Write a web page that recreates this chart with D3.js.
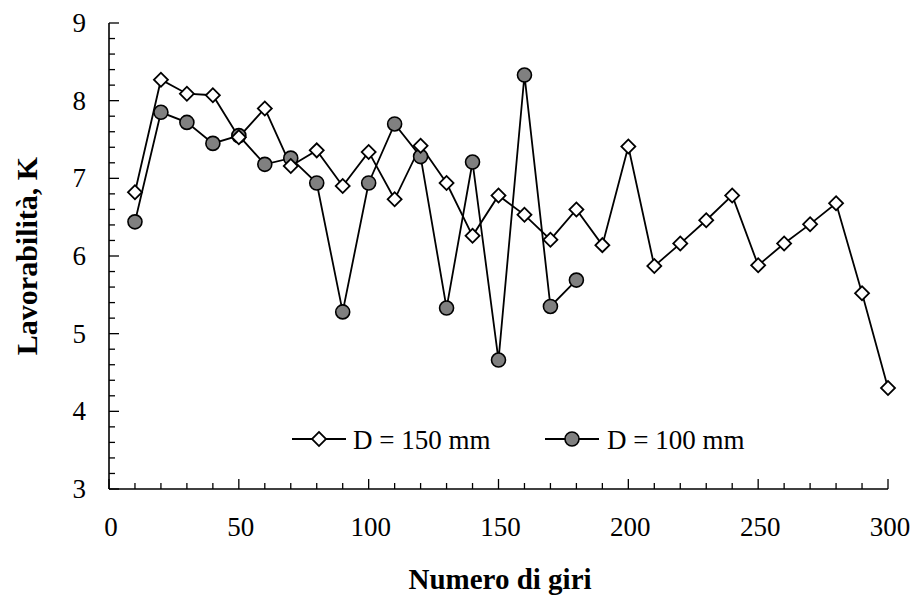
<!DOCTYPE html>
<html>
<head>
<meta charset="utf-8">
<script src="https://cdn.jsdelivr.net/npm/d3@7"></script>
<style>
  body { margin: 0; background: #fff; }
  svg { display: block; }
</style>
</head>
<body>
<svg id="chart" width="912" height="599"></svg>
<script>
// Dati
const giri = [10, 20, 30, 40, 50, 60, 70, 80, 90, 100, 110, 120, 130, 140, 150,
              160, 170, 180, 190, 200, 210, 220, 230, 240, 250, 260, 270, 280, 290, 300];
const lav150 = [6.82, 8.27, 8.09, 8.07, 7.53, 7.90, 7.16, 7.36, 6.90, 7.34, 6.73, 7.42, 6.94, 6.26, 6.78,
                6.53, 6.21, 6.60, 6.14, 7.41, 5.87, 6.16, 6.46, 6.78, 5.88, 6.16, 6.41, 6.68, 5.52, 4.30];
const lav100 = [6.44, 7.85, 7.72, 7.45, 7.55, 7.18, 7.26, 6.94, 5.28, 6.94, 7.70, 7.28, 5.33, 7.21, 4.66,
                8.33, 5.35, 5.69];
const xTicks = [0, 50, 100, 150, 200, 250, 300];
const yTicks = [3, 4, 5, 6, 7, 8, 9];
const seriesNames = ["D = 150 mm", "D = 100 mm"];

const FONT = "'Liberation Serif', 'Times New Roman', Tinos, serif";

const svg = d3.select("#chart");

// scale
const x = d3.scaleLinear().domain([0, 300]).range([109, 888]);
const y = d3.scaleLinear().domain([3, 9]).range([489, 23]);

// tacche secondarie
const xMinor = d3.range(0, 301, 10);
const yMinor = d3.range(3, 9.001, 0.2);

const axes = svg.append("g").attr("stroke", "#000").attr("stroke-width", 1.3);

axes.selectAll(".xm").data(xMinor).enter().append("line")
    .attr("x1", d => x(d)).attr("x2", d => x(d))
    .attr("y1", y(3)).attr("y2", d => y(3) - (d % 50 === 0 ? 10 : 6));

axes.selectAll(".ym").data(yMinor).enter().append("line")
    .attr("y1", d => y(d)).attr("y2", d => y(d))
    .attr("x1", x(0)).attr("x2", d => x(0) + (Math.abs(d - Math.round(d)) < 1e-6 ? 10 : 6));

axes.append("line").attr("x1", x(0)).attr("x2", x(300)).attr("y1", y(3)).attr("y2", y(3)).attr("stroke-width", 1.6);
axes.append("line").attr("x1", x(0)).attr("x2", x(0)).attr("y1", y(3)).attr("y2", y(9)).attr("stroke-width", 1.6);

// etichette
svg.selectAll(".xl").data(xTicks).enter().append("text")
    .attr("x", d => x(d) + 2).attr("y", 536)
    .attr("text-anchor", "middle").attr("font-size", 27)
    .style("font-family", FONT).style("font-weight", "normal")
    .text(d => d);

svg.selectAll(".yl").data(yTicks).enter().append("text")
    .attr("x", 86).attr("y", d => y(d) + 9)
    .attr("text-anchor", "end").attr("font-size", 27)
    .style("font-family", FONT).style("font-weight", "normal")
    .text(d => d);

svg.append("text")
    .attr("x", 500).attr("y", 589)
    .attr("text-anchor", "middle").attr("font-size", 29)
    .style("font-family", FONT).style("font-weight", "bold")
    .text("Numero di giri");

svg.append("text")
    .attr("transform", "translate(37,256) rotate(-90)")
    .attr("text-anchor", "middle").attr("font-size", 30)
    .style("font-family", FONT).style("font-weight", "bold")
    .text("Lavorabilità, K");

// linee
const line = d3.line().x(d => x(d[0])).y(d => y(d[1]));
const pts150 = giri.map((g, i) => [g, lav150[i]]);
const pts100 = lav100.map((v, i) => [giri[i], v]);

svg.append("path").datum(pts150).attr("d", line)
    .attr("fill", "none").attr("stroke", "#000").attr("stroke-width", 1.8);
svg.append("path").datum(pts100).attr("d", line)
    .attr("fill", "none").attr("stroke", "#000").attr("stroke-width", 1.8);

const diamond = d3.symbol().type(d3.symbolSquare).size(98);

function drawDiamond(g, cx, cy) {
  g.append("path").attr("d", diamond())
    .attr("transform", `translate(${cx},${cy}) rotate(45)`)
    .attr("fill", "#fff").attr("stroke", "#000").attr("stroke-width", 1.8);
}
function drawCircle(g, cx, cy) {
  g.append("circle").attr("cx", cx).attr("cy", cy).attr("r", 7)
    .attr("fill", "#808080").attr("stroke", "#000").attr("stroke-width", 1.6);
}

const marks100 = svg.append("g");
pts100.forEach(p => drawCircle(marks100, x(p[0]), y(p[1])));
const marks150 = svg.append("g");
pts150.forEach(p => drawDiamond(marks150, x(p[0]), y(p[1])));

// legenda
const leg = svg.append("g");
const legY = 439;
leg.append("line").attr("x1", 292).attr("x2", 346).attr("y1", legY).attr("y2", legY)
    .attr("stroke", "#000").attr("stroke-width", 1.8);
drawDiamond(leg, 319, legY);
leg.append("text").attr("x", 353).attr("y", legY + 10).attr("font-size", 27)
    .style("font-family", FONT).text(seriesNames[0]);

leg.append("line").attr("x1", 545).attr("x2", 599).attr("y1", legY).attr("y2", legY)
    .attr("stroke", "#000").attr("stroke-width", 1.8);
drawCircle(leg, 572, legY);
leg.append("text").attr("x", 607).attr("y", legY + 10).attr("font-size", 27)
    .style("font-family", FONT).text(seriesNames[1]);
</script>
</body>
</html>
